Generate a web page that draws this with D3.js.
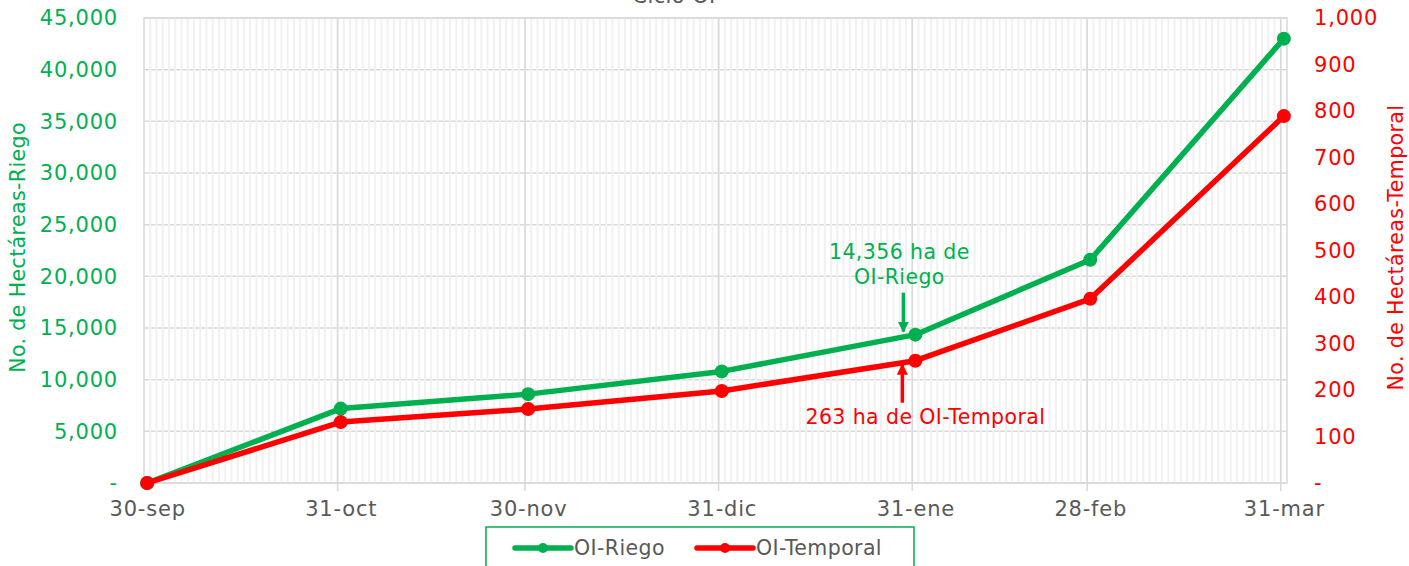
<!DOCTYPE html>
<html lang="es">
<head>
<meta charset="UTF-8">
<title>Ciclo OI</title>
<script src="https://d3js.org/d3.v7.min.js"></script>
<style>
  body { margin: 0; background: #fff; }
  svg { display: block; font-family: "DejaVu Sans", "Open Sans", sans-serif; }
  svg text { letter-spacing: 0.4px; }
  svg .tick text { font-family: "DejaVu Sans", "Open Sans", sans-serif; font-size: 21px; letter-spacing: 0.8px; }
</style>
</head>
<body>
<div id="chart"></div>
<script>
// data
const dates = ["2020-09-30", "2020-10-31", "2020-11-30", "2020-12-31", "2021-01-31", "2021-02-28", "2021-03-31"];
const dateLabels = ["30-sep", "31-oct", "30-nov", "31-dic", "31-ene", "28-feb", "31-mar"];
const riego = [0, 7200, 8600, 10800, 14356, 21600, 43000];
const temporal = [0, 131, 159, 198, 263, 396, 789];
const leftTicks = [0, 5000, 10000, 15000, 20000, 25000, 30000, 35000, 40000, 45000];
const rightTicks = [0, 100, 200, 300, 400, 500, 600, 700, 800, 900, 1000];

const green = "#00b050", red = "#ff0000", grey = "#595959";
const W = 1409, H = 566;
const plot = { left: 144, right: 1287, top: 18, bottom: 483 };
const fs = 20.5;

const svg = d3.select("#chart").append("svg").attr("width", W).attr("height", H);

const parse = d3.timeParse("%Y-%m-%d");
const days = dates.map(parse);
const noon = d => d3.timeHour.offset(d, 12);

const x = d3.scaleTime()
    .domain([days[0], d3.timeDay.offset(days[days.length - 1], 1)])
    .range([plot.left, plot.right]);
const yL = d3.scaleLinear().domain([0, 45000]).range([plot.bottom, plot.top]);
const yR = d3.scaleLinear().domain([0, 1000]).range([plot.bottom, plot.top]);

const g = svg.append("g");

// horizontal gridlines
g.selectAll(".hgrid")
    .data(leftTicks)
    .enter().append("line")
    .attr("x1", plot.left).attr("x2", plot.right)
    .attr("y1", d => yL(d)).attr("y2", d => yL(d))
    .attr("stroke", "#d9d9d9").attr("stroke-width", 1.5);

// minor daily gridlines, drawn over the horizontal ones
g.selectAll(".minor")
    .data(d3.timeDay.range(x.domain()[0], x.domain()[1]).slice(1))
    .enter().append("line")
    .attr("x1", d => x(d)).attr("x2", d => x(d))
    .attr("y1", plot.top).attr("y2", plot.bottom)
    .attr("stroke", "#f1f1f1").attr("stroke-width", 2);

// major gridlines
g.selectAll(".major")
    .data(days.slice(1))
    .enter().append("line")
    .attr("x1", d => x(d)).attr("x2", d => x(d))
    .attr("y1", plot.top).attr("y2", plot.bottom + 8)
    .attr("stroke", "#d9d9d9").attr("stroke-width", 1.5);

// plot border
g.append("rect")
    .attr("x", plot.left).attr("y", plot.top)
    .attr("width", plot.right - plot.left).attr("height", plot.bottom - plot.top)
    .attr("fill", "none").attr("stroke", "#d9d9d9").attr("stroke-width", 1.5);

// axes
const fmtL = d => d === 0 ? "-" : d3.format(",")(d);
const leftAxis = svg.append("g")
    .attr("transform", `translate(${plot.left - 23},0)`)
    .call(d3.axisLeft(yL).tickValues(leftTicks).tickFormat(fmtL).tickSize(0));
leftAxis.select(".domain").remove();
leftAxis.selectAll("text").attr("fill", green);

const rightAxis = svg.append("g")
    .attr("transform", `translate(${plot.right + 24},0)`)
    .call(d3.axisRight(yR).tickValues(rightTicks).tickFormat(fmtL).tickSize(0));
rightAxis.select(".domain").remove();
rightAxis.selectAll("text").attr("fill", red);

const bottomAxis = svg.append("g")
    .attr("transform", `translate(0,${plot.bottom + 15})`)
    .call(d3.axisBottom(x).tickValues(days.map(noon)).tickFormat((d, i) => dateLabels[i]).tickSize(0));
bottomAxis.select(".domain").remove();
bottomAxis.selectAll("text").attr("fill", grey);

// axis titles
svg.append("text")
    .attr("transform", `translate(25,${(plot.top + plot.bottom) / 2 - 3}) rotate(-90)`)
    .attr("text-anchor", "middle").attr("font-size", fs).attr("fill", green)
    .text("No. de Hectáreas-Riego");
svg.append("text")
    .attr("transform", `translate(1403,${(plot.top + plot.bottom) / 2 - 3}) rotate(-90)`)
    .attr("text-anchor", "middle").attr("font-size", fs).attr("fill", red)
    .text("No. de Hectáreas-Temporal");

// title (cut off at the top, as in the original)
svg.append("text")
    .attr("x", 674).attr("y", 3)
    .attr("text-anchor", "middle").attr("font-size", 21).attr("fill", grey)
    .text("Ciclo OI");

// series
const series = [
    { name: "OI-Riego", values: riego, y: yL, color: green },
    { name: "OI-Temporal", values: temporal, y: yR, color: red }
];
series.forEach(s => {
    const pts = s.values.map((v, i) => [x(noon(days[i])), s.y(v)]);
    svg.append("path")
        .attr("d", d3.line()(pts))
        .attr("fill", "none").attr("stroke", s.color)
        .attr("stroke-width", 5.5).attr("stroke-linejoin", "round");
    svg.selectAll(null).data(pts).enter().append("circle")
        .attr("cx", d => d[0]).attr("cy", d => d[1]).attr("r", 7)
        .attr("fill", s.color);
});

// annotations
const defs = svg.append("defs");
[["arrG", green], ["arrR", red]].forEach(([id, c]) => {
    defs.append("marker").attr("id", id)
        .attr("viewBox", "0 0 10 10").attr("refX", 9).attr("refY", 5)
        .attr("markerWidth", 3.2).attr("markerHeight", 3.2).attr("orient", "auto")
        .append("path").attr("d", "M0,0L10,5L0,10z").attr("fill", c);
});
const jan = x(noon(days[4]));
svg.append("line")
    .attr("x1", jan - 12).attr("x2", jan - 12)
    .attr("y1", yL(riego[4]) - 42).attr("y2", yL(riego[4]) - 3)
    .attr("stroke", green).attr("stroke-width", 3.5).attr("marker-end", "url(#arrG)");
svg.append("text")
    .attr("x", jan - 16).attr("y", yL(riego[4]) - 76)
    .attr("text-anchor", "middle").attr("font-size", fs).attr("fill", green)
    .text("14,356 ha de");
svg.append("text")
    .attr("x", jan - 16).attr("y", yL(riego[4]) - 51)
    .attr("text-anchor", "middle").attr("font-size", fs).attr("fill", green)
    .text("OI-Riego");
svg.append("line")
    .attr("x1", jan - 13).attr("x2", jan - 13)
    .attr("y1", yR(temporal[4]) + 42).attr("y2", yR(temporal[4]) + 4)
    .attr("stroke", red).attr("stroke-width", 3.5).attr("marker-end", "url(#arrR)");
svg.append("text")
    .attr("x", jan + 10).attr("y", yR(temporal[4]) + 63)
    .attr("text-anchor", "middle").attr("font-size", fs).attr("fill", red)
    .text("263 ha de OI-Temporal");

// legend
const lg = svg.append("g");
lg.append("rect")
    .attr("x", 486).attr("y", 527).attr("width", 428).attr("height", 50)
    .attr("fill", "#fff").attr("stroke", green).attr("stroke-width", 1.5);
const legendX = [515, 697];
series.forEach((s, i) => {
    const lx = legendX[i];
    lg.append("line")
        .attr("x1", lx).attr("x2", lx + 56).attr("y1", 548).attr("y2", 548)
        .attr("stroke", s.color).attr("stroke-width", 5.5).attr("stroke-linecap", "round");
    lg.append("circle").attr("cx", lx + 28).attr("cy", 548).attr("r", 5).attr("fill", s.color);
    lg.append("text")
        .attr("x", lx + 59).attr("y", 548).attr("dy", "0.35em")
        .attr("font-size", fs).attr("fill", grey)
        .text(s.name);
});
</script>
</body>
</html>
